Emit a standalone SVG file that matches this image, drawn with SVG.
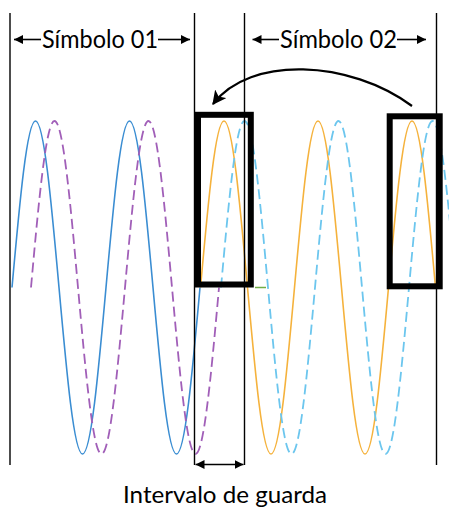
<svg xmlns="http://www.w3.org/2000/svg" width="449" height="511" viewBox="0 0 449 511">
<style>
.bg{fill:#fff}
.wave{fill:none;stroke-width:1.6}
.blue{stroke:#3A8DD2}
.purple{stroke:#A15FB8;stroke-dasharray:10 5;stroke-width:1.8}
.orange{stroke:#F5B23C}
.lblue{stroke:#6CC6EE;stroke-dasharray:10 5;stroke-width:1.8}
.vline{stroke:#000;stroke-width:1.4}
.box{fill:none;stroke:#000;stroke-width:6}
.dim{stroke:#000;stroke-width:1.6}
.lbl{font-family:Lato,"Liberation Sans",sans-serif;fill:#000}
</style>
<defs>
<marker id="ah" viewBox="0 0 10 10" refX="10" refY="5" markerWidth="9" markerHeight="9" markerUnits="userSpaceOnUse" orient="auto-start-reverse">
<path d="M0,0 L10,5 L0,10 z" fill="#000"/>
</marker>
<marker id="ah2" viewBox="0 0 12 12" refX="11" refY="6" markerWidth="14" markerHeight="14" markerUnits="userSpaceOnUse" orient="auto">
<path d="M0,0 L12,6 L0,12 L3,6 z" fill="#000"/>
</marker>
</defs>
<rect class="bg" x="0" y="0" width="449" height="511"/>
<g id="waves">
<path id="wave-blue" class="wave blue" d="M12,287.5 c7.66,-85.3 15,-166.5 23.5,-166.5 c8.5,0 15.84,81.2 23.5,166.5 c7.66,85.3 15,166.5 23.5,166.5 c8.5,0 15.84,-81.2 23.5,-166.5 c7.66,-85.3 15,-166.5 23.5,-166.5 c8.5,0 15.84,81.2 23.5,166.5 c7.66,85.3 15,166.5 23.5,166.5 c8.5,0 15.84,-81.2 23.5,-166.5"/>
<path id="wave-purple" class="wave purple" d="M31,287.5 c7.66,-85.3 15,-166.5 23.5,-166.5 c8.5,0 15.84,81.2 23.5,166.5 c7.66,85.3 15,166.5 23.5,166.5 c8.5,0 15.84,-81.2 23.5,-166.5 c7.66,-85.3 15,-166.5 23.5,-166.5 c8.5,0 15.84,81.2 23.5,166.5 c7.66,85.3 15,166.5 23.5,166.5 c8.5,0 15.84,-81.2 23.5,-166.5"/>
<path id="wave-orange" class="wave orange" d="M200.5,287.5 c7.66,-85.3 15,-166.5 23.5,-166.5 c8.5,0 15.84,81.2 23.5,166.5 c7.66,85.3 15,166.5 23.5,166.5 c8.5,0 15.84,-81.2 23.5,-166.5 c7.66,-85.3 15,-166.5 23.5,-166.5 c8.5,0 15.84,81.2 23.5,166.5 c7.66,85.3 15,166.5 23.5,166.5 c8.5,0 15.84,-81.2 23.5,-166.5 c7.66,-85.3 15,-166.5 23.5,-166.5 c8.5,0 15.84,81.2 23.5,166.5"/>
<path id="wave-lightblue" class="wave lblue" d="M221,287.5 c7.66,-85.3 15,-166.5 23.5,-166.5 c8.5,0 15.84,81.2 23.5,166.5 c7.66,85.3 15,166.5 23.5,166.5 c8.5,0 15.84,-81.2 23.5,-166.5 c7.66,-85.3 15,-166.5 23.5,-166.5 c8.5,0 15.84,81.2 23.5,166.5 c7.66,85.3 15,166.5 23.5,166.5 c8.5,0 15.84,-81.2 23.5,-166.5 c7.66,-85.3 15,-166.5 23.5,-166.5 c8.5,0 15.84,81.2 23.5,166.5"/>
<line x1="255" y1="287.5" x2="266" y2="287.5" stroke="#70AD47" stroke-width="1.5"/>
</g>
<g id="boundaries">
<line class="vline" x1="10" y1="13" x2="10" y2="465"/>
<line class="vline" x1="194.5" y1="13" x2="194.5" y2="465"/>
<line class="vline" x1="244.5" y1="13" x2="244.5" y2="465"/>
<line class="vline" x1="436.5" y1="13" x2="436.5" y2="465"/>
</g>
<g id="box-guard">
<rect class="box" x="198" y="114.8" width="52.8" height="169.7"/>
</g>
<g id="box-end">
<rect class="box" x="389.7" y="116.3" width="50" height="170"/>
</g>
<g id="label-simbolo-01">
<text class="lbl" x="42" y="47.5" font-size="25" textLength="116" lengthAdjust="spacingAndGlyphs">Símbolo 01</text>
</g>
<g id="label-simbolo-02">
<text class="lbl" x="280" y="47.5" font-size="25" textLength="117" lengthAdjust="spacingAndGlyphs">Símbolo 02</text>
</g>
<g id="label-intervalo">
<text class="lbl" x="123" y="503" font-size="23" textLength="204" lengthAdjust="spacingAndGlyphs">Intervalo de guarda</text>
</g>
<g id="connectors">
<line class="dim" x1="41" y1="39.5" x2="14" y2="39.5" marker-end="url(#ah)"/>
<line class="dim" x1="158" y1="39.5" x2="190" y2="39.5" marker-end="url(#ah)"/>
<line class="dim" x1="279" y1="39.5" x2="252.5" y2="39.5" marker-end="url(#ah)"/>
<line class="dim" x1="397" y1="39.5" x2="426" y2="39.5" marker-end="url(#ah)"/>
<line class="dim" x1="195.5" y1="464.5" x2="243.5" y2="464.5" marker-start="url(#ah)" marker-end="url(#ah)"/>
<path d="M412,106 C350,60 250,55 213,104" fill="none" stroke="#000" stroke-width="2.2" marker-end="url(#ah2)"/>
</g>
</svg>
